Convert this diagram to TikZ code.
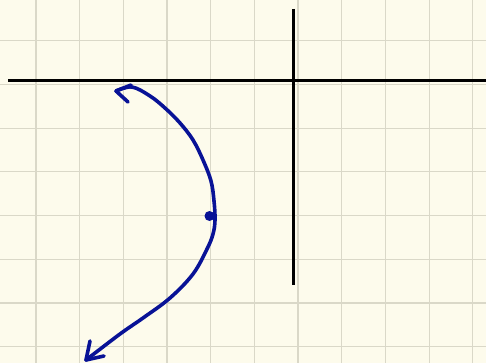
\documentclass[tikz,border=0pt]{standalone}
\begin{document}
\begin{tikzpicture}[x=1pt,y=-1pt,
  gridline/.style={draw=gridc,line width=1.1pt},
  axisline/.style={draw=black,line width=2.8pt},
  ink/.style={draw=inkblue,line width=3.6pt,line cap=round,line join=round}]
\definecolor{bgc}{RGB}{253,251,236}
\definecolor{gridc}{RGB}{218,216,200}
\definecolor{inkblue}{RGB}{8,18,150}
\fill[bgc] (0,0) rectangle (486,363);
\useasboundingbox (0,0) rectangle (486,363);
% grid
\foreach \x in {36,79.7,123.4,167,210.7,254.4,298,341.8,385.5,429.2,472.9}
  \draw[gridline] (\x,0) -- (\x,363);
\foreach \y in {40.8,84.5,128.2,171.9,215.6,259.3,303,346.7}
  \draw[gridline] (0,\y) -- (486,\y);
% axes
\coordinate (xl) at (8,80.5);
\coordinate (xr) at (486,80.5);
\coordinate (yt) at (293.3,9);
\coordinate (yb) at (293.3,285);
\draw[axisline] (xl) -- (xr);
\draw[axisline] (yt) -- (yb);
% curve
\coordinate (tipA) at (116,91);
\coordinate (tipB) at (86,360);
\draw[ink] plot[smooth,tension=0.6] coordinates {(116,91) (132,87) (150,96) (165,108) (180,123) (193,140) (203,160) (211,181) (214,201) (215,220) (213,234) (207,249) (193,274) (170,298) (143,318) (120,334) (86,360)};
\draw[ink] (tipA) -- (131,85);
\draw[ink] (tipA) -- (128,102);
\draw[ink] (tipB) -- (90,341);
\draw[ink] (tipB) -- (104,356);
% dot
\fill[inkblue] (209.5,216) circle[radius=5];
\end{tikzpicture}
\end{document}
